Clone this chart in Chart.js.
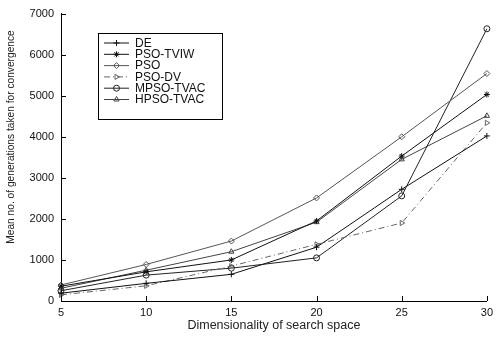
<!DOCTYPE html>
<html><head><meta charset="utf-8">
<script src="https://cdn.jsdelivr.net/npm/chart.js@4/dist/chart.umd.min.js"></script>
<style>html,body{margin:0;padding:0;background:#fff}#wrap{width:498px;height:339px;position:relative}</style>
</head><body><div id="wrap"><canvas id="c"></canvas></div>
<script>
const dims = [5, 10, 15, 20, 25, 30];
const yTicks = [0, 1000, 2000, 3000, 4000, 5000, 6000, 7000];
const seriesNames = ["DE", "PSO-TVIW", "PSO", "PSO-DV", "MPSO-TVAC", "HPSO-TVAC"];
const DE        = [190, 430, 650, 1310, 2720, 4020];
const PSO_TVIW  = [360, 710, 1000, 1950, 3530, 5030];
const PSO       = [390, 890, 1460, 2510, 4000, 5540];
const PSO_DV    = [150, 370, 850, 1380, 1900, 4340];
const MPSO_TVAC = [250, 630, 800, 1050, 2560, 6630];
const HPSO_TVAC = [310, 750, 1200, 1920, 3450, 4510];
const xTitle = "Dimensionality of search space";
const yTitle = "Mean no. of generations taken for convergence";

const styles = [
  {color:'#111', style:'cross', rot:0, dash:[]},
  {color:'#111', style:'star', rot:0, dash:[]},
  {color:'#555', style:'rectRot', rot:0, dash:[]},
  {color:'#666', style:'triangle', rot:90, dash:[6,3,1,3]},
  {color:'#222', style:'circle', rot:0, dash:[]},
  {color:'#444', style:'triangle', rot:0, dash:[]}
];
const values = [DE, PSO_TVIW, PSO, PSO_DV, MPSO_TVAC, HPSO_TVAC];

const datasets = seriesNames.map((n,i)=>({
  label:n, data:values[i],
  borderColor:styles[i].color, borderWidth:1, borderDash:styles[i].dash,
  pointStyle:styles[i].style, pointRotation:styles[i].rot,
  pointRadius:3, pointBorderColor:styles[i].color, pointBackgroundColor:'rgba(0,0,0,0)',
  pointBorderWidth:1, fill:false, tension:0
}));

const FONT = "'Liberation Sans', Arial, sans-serif";

const extras = {
  id:'extras',
  afterDraw(chart){
    const ctx = chart.ctx, a = chart.chartArea;
    const xs = chart.scales.x, ys = chart.scales.y;
    ctx.save();
    ctx.strokeStyle = '#000'; ctx.lineWidth = 1;
    ctx.beginPath();
    dims.forEach((d,i)=>{ const x = Math.round(xs.getPixelForValue(i))+0.5; ctx.moveTo(x, a.bottom); ctx.lineTo(x, a.bottom-5); });
    yTicks.forEach(v=>{ const y = Math.round(ys.getPixelForValue(v))+0.5; ctx.moveTo(a.left, y); ctx.lineTo(a.left+5, y); });
    ctx.stroke();
    ctx.fillStyle = '#222';
    ctx.font = "10.2px " + FONT;
    ctx.translate(11, 137);
    ctx.rotate(-Math.PI/2);
    ctx.textAlign = 'center'; ctx.textBaseline = 'middle';
    ctx.fillText(yTitle, 0, 0);
    ctx.restore();
    ctx.save();
    const bx = 98.5, by = 33.5, bw = 124, bh = 86;
    ctx.fillStyle = '#fff'; ctx.fillRect(bx, by, bw, bh);
    ctx.strokeStyle = '#000'; ctx.lineWidth = 1; ctx.strokeRect(bx, by, bw, bh);
    ctx.font = "12px " + FONT; ctx.textBaseline = 'middle'; ctx.textAlign = 'left';
    chart.data.datasets.forEach((ds,i)=>{
      const y = 43 + i*11.3;
      ctx.strokeStyle = ds.borderColor; ctx.setLineDash(ds.borderDash||[]);
      ctx.beginPath(); ctx.moveTo(104, y); ctx.lineTo(129, y); ctx.stroke();
      ctx.setLineDash([]);
      ctx.fillStyle = 'rgba(0,0,0,0)';
      Chart.helpers.drawPoint(ctx, {pointStyle:ds.pointStyle, rotation:ds.pointRotation, radius:3, borderWidth:1}, 116.5, y);
      ctx.fillStyle = '#111';
      ctx.fillText(ds.label, 135, y+0.5);
    });
    ctx.restore();
  }
};

new Chart(document.getElementById('c'), {
  type:'line',
  data:{labels:dims.map(String), datasets},
  options:{
    responsive:true, maintainAspectRatio:false, animation:false,
    layout:{padding:{left:0, right:8, top:13, bottom:0}},
    plugins:{legend:{display:false}, tooltip:{enabled:false}},
    scales:{
      x:{
        type:'category', offset:false,
        grid:{display:true, drawOnChartArea:false, drawTicks:false},
        border:{display:true, color:'#000', width:1},
        ticks:{color:'#111', font:{family:FONT, size:11}, padding:5, maxRotation:0, autoSkip:false},
        title:{display:true, text:xTitle, color:'#222', font:{family:FONT, size:12.5}, padding:{top:6,bottom:6}},
        afterFit(s){ s.height = 38; }
      },
      y:{
        min:0, max:7000,
        afterBuildTicks(s){ s.ticks = yTicks.map(v=>({value:v})); },
        grid:{display:true, drawOnChartArea:false, drawTicks:false},
        border:{display:true, color:'#000', width:1},
        ticks:{color:'#111', font:{family:FONT, size:11}, padding:7, callback:(v)=>String(v)},
        afterFit(s){ s.width = 61; }
      }
    }
  },
  plugins:[extras]
});
</script>
</body></html>
